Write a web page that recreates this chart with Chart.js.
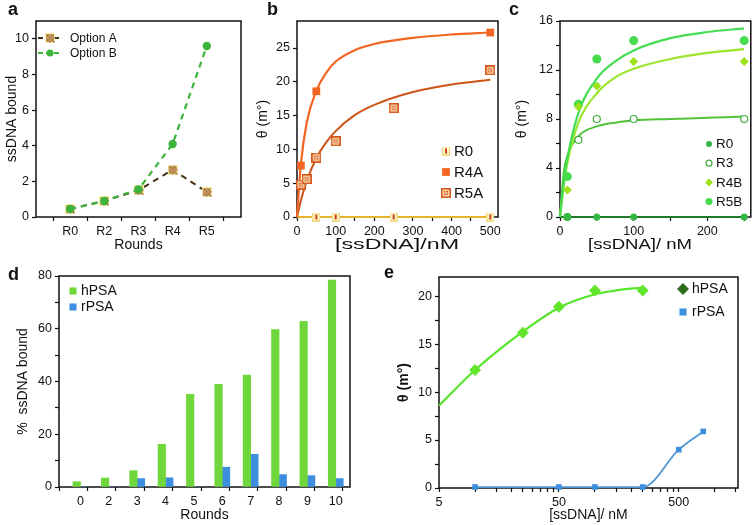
<!DOCTYPE html>
<html>
<head>
<meta charset="utf-8">
<script src="https://cdn.jsdelivr.net/npm/chart.js@4.4.1/dist/chart.umd.min.js"></script>
<style>
  body { margin: 0; background: #fff; width: 756px; height: 525px; position: relative; overflow: hidden;
         font-family: "Liberation Sans", Arial, sans-serif; }
  canvas { position: absolute; }
  .lab { position: absolute; font-weight: bold; font-size: 18px; line-height: 18px; color: #111; }
</style>
</head>
<body>
<canvas id="ca" width="250" height="255" style="left:0;top:0"></canvas>
<canvas id="cb" width="255" height="255" style="left:250px;top:0"></canvas>
<canvas id="cc" width="251" height="255" style="left:505px;top:0"></canvas>
<canvas id="cd" width="385" height="270" style="left:0;top:255px"></canvas>
<canvas id="ce" width="371" height="270" style="left:385px;top:255px"></canvas>
<div class="lab" style="left:8px;top:0">a</div>
<div class="lab" style="left:267px;top:0">b</div>
<div class="lab" style="left:509px;top:0">c</div>
<div class="lab" style="left:8px;top:265px">d</div>
<div class="lab" style="left:384px;top:263px">e</div>
<script>
// panel a
var roundsA = ['R0', 'R2', 'R3', 'R4', 'R5'];
var optionA = [0.45, 0.9, 1.5, 2.65, 1.4];
var optionB = [0.45, 0.9, 1.55, 4.1, 9.6];

// panel b
var r0bX = [50, 100, 250, 500];
var r0bY = [0, 0, 0, 0];
var r4aX = [10, 50, 500];
var r4aY = [7.6, 18.6, 27.3];
var r5aX = [10, 25, 50, 100, 250, 500];
var r5aY = [4.8, 5.6, 8.8, 11.2, 16.1, 21.7];
var fitBX = [0, 10, 25, 50, 75, 100, 150, 200, 300, 400, 500];
var fitR0b = [0, 0, 0, 0, 0, 0, 0, 0, 0, 0, 0];
var fitR4A = [0, 7.8, 13.9, 18.7, 21.3, 23.0, 24.7, 25.6, 26.5, 27.0, 27.3];
var fitR5A = [0, 2.4, 5.3, 8.7, 11.0, 12.7, 15.1, 16.6, 18.5, 19.6, 20.3];

// panel c
var r0cX = [10, 50, 100, 250];
var r0cY = [0, 0, 0, 0];
var r3X = [10, 25, 50, 100, 250];
var r3Y = [0, 6.3, 8.0, 8.0, 8.0];
var r4bX = [10, 25, 50, 100, 250];
var r4bY = [2.2, 9.0, 10.7, 12.7, 12.7];
var r5bX = [10, 25, 50, 100, 250];
var r5bY = [3.3, 9.2, 12.9, 14.4, 14.4];
var fitCX = [0, 5, 10, 25, 50, 75, 100, 150, 200, 250];
var fitR0c = [0, 0, 0, 0, 0, 0, 0, 0, 0, 0];
var fitR3 = [0, 3.6, 5.0, 6.6, 7.4, 7.7, 7.9, 8.0, 8.1, 8.2];
var fitR4B = [0, 2.5, 4.4, 7.7, 10.1, 11.4, 12.1, 12.9, 13.4, 13.7];
var fitR5B = [0, 2.8, 4.8, 8.5, 11.3, 12.7, 13.6, 14.6, 15.1, 15.4];

// panel d
var roundsD = ['0', '2', '3', '4', '5', '6', '7', '8', '9', '10'];
var hPSAd = [2.0, 3.4, 6.2, 16.2, 35.1, 38.9, 42.4, 59.7, 62.8, 78.5];
var rPSAd = [0, 0, 3.2, 3.5, 0, 7.5, 12.4, 4.7, 4.3, 3.2];

// panel e
var hPSAeX = [10, 25, 50, 100, 250];
var hPSAeY = [12.3, 16.2, 18.9, 20.6, 20.6];
var fitEX = [5, 10, 25, 50, 100, 150, 250];
var fitHPSA = [8.6, 12.3, 16.3, 18.8, 20.2, 20.6, 20.9];
var rPSAeX = [10, 50, 100, 250, 500, 800];
var rPSAeY = [0.1, 0.1, 0.1, 0.1, 4.0, 5.9];

var FONT = '"Liberation Sans", Arial, sans-serif';
Chart.defaults.font.family = FONT;
Chart.defaults.font.size = 12;
Chart.defaults.color = '#111';
Chart.defaults.animation = false;

function range(a, b, s) {
  var out = [];
  for (var v = a; v <= b + 1e-9; v += s) out.push(Math.round(v * 1000) / 1000);
  return out;
}
function xy(xs, ys) { return xs.map(function (x, i) { return { x: x, y: ys[i] }; }); }

// little image markers for the patterned squares
function marker(w, h, draw) {
  var c = document.createElement('canvas');
  c.width = w; c.height = h;
  draw(c.getContext('2d'));
  return c;
}
var mOptA = marker(10, 10, function (g) {
  g.fillStyle = '#f4f0a8'; g.fillRect(0, 0, 10, 10);
  g.fillStyle = '#c99a60'; g.fillRect(1, 1, 8, 8);
  g.fillStyle = '#9c6c3c';
  for (var i = 2; i < 9; i += 2) for (var j = 2; j < 9; j += 2) if ((i + j) % 4 === 0) g.fillRect(i, j, 1.5, 1.5);
});
var mR0b = marker(8, 9, function (g) {
  g.fillStyle = '#f0d878'; g.fillRect(0, 0, 8, 9);
  g.fillStyle = '#fbf3c8'; g.fillRect(1, 1, 6, 7);
  g.fillStyle = '#d04010'; g.fillRect(3, 2, 2, 5);
});
var mR5A = marker(10, 10, function (g) {
  g.fillStyle = '#d4561c'; g.fillRect(0, 0, 10, 10);
  g.fillStyle = '#f6d2a8'; g.fillRect(1.5, 1.5, 7, 7);
  g.fillStyle = '#d4561c';
  g.fillRect(3, 3, 1.5, 1.5); g.fillRect(5.5, 3, 1.5, 1.5);
  g.fillRect(3, 5.5, 1.5, 1.5); g.fillRect(5.5, 5.5, 1.5, 1.5);
});

function pts(label, xs, ys, o) {
  return Object.assign({
    label: label, data: xy(xs, ys), showLine: false, clip: false,
    pointRadius: 4, pointHoverRadius: 4, borderWidth: 0, pointBorderWidth: 0
  }, o);
}
function curve(xs, ys, color, width, o) {
  return Object.assign({
    data: xy(xs, ys), showLine: true, clip: false, pointRadius: 0, pointHoverRadius: 0,
    borderColor: color, borderWidth: width, cubicInterpolationMode: 'monotone', fill: false
  }, o);
}

function mkScale(p) {
  var s = {
    type: p.type || 'linear',
    min: p.min, max: p.max,
    border: { display: false },
    grid: {
      drawOnChartArea: false, tickLength: 4, tickWidth: 1.2,
      tickColor: function (c) {
        return (c.tick && p.mark && !p.mark(c.tick.value)) ? 'rgba(0,0,0,0)' : '#111';
      }
    },
    ticks: { autoSkip: false, maxRotation: 0, padding: 3, font: { size: 12.5 },
             callback: function (v) { return p.label(v); } },
    title: { display: !p.noTitle, text: p.title,
             font: { size: p.tsize || 13, weight: p.tbold ? 'bold' : 'normal' },
             padding: { top: p.tpad || 0, bottom: 1 } },
    afterBuildTicks: function (sc) { sc.ticks = p.ticks.map(function (v) { return { value: v }; }); }
  };
  if (p.axis === 'x') s.afterFit = function (sc) { sc.height = p.size; };
  else s.afterFit = function (sc) { sc.width = p.size; };
  return s;
}

var frame = {
  id: 'frame',
  beforeDatasetsDraw: function (chart) {
    var a = chart.chartArea, g = chart.ctx;
    g.save();
    g.strokeStyle = '#111'; g.lineWidth = 1.5;
    g.strokeRect(a.left, a.top, a.right - a.left, a.bottom - a.top);
    g.restore();
  }
};

// the x titles of b and c are printed wide in the figure
var wideTitle = {
  id: 'wideTitle',
  afterDraw: function (chart, args, o) {
    if (!o || !o.text) return;
    var g = chart.ctx;
    g.save();
    g.font = o.size + 'px ' + FONT;
    g.fillStyle = '#111';
    g.textAlign = 'center'; g.textBaseline = 'middle';
    var w = g.measureText(o.text).width;
    g.translate(o.cx, o.cy);
    g.scale(o.width / w, 1);
    g.fillText(o.text, 0, 0);
    g.restore();
  }
};

var boxLegend = {
  id: 'boxLegend',
  afterDraw: function (chart, args, o) {
    if (!o || !o.items) return;
    var g = chart.ctx;
    g.save();
    g.font = (o.size || 12) + 'px ' + FONT;
    g.textBaseline = 'middle';
    o.items.forEach(function (it, i) {
      var y = o.y + i * o.gap;
      if (it.line) {
        g.strokeStyle = it.line; g.lineWidth = it.lw || 2;
        g.setLineDash(it.dash || []);
        g.beginPath(); g.moveTo(o.mx - 12, y); g.lineTo(o.mx + 10, y); g.stroke();
        g.setLineDash([]);
      }
      g.fillStyle = it.fill || '#000';
      g.strokeStyle = it.stroke || it.fill || '#000';
      g.lineWidth = it.bw || 0;
      Chart.helpers.drawPoint(g, { pointStyle: it.style, radius: it.r || 4, rotation: 0, borderWidth: it.bw || 0 }, o.mx, y);
      g.fillStyle = '#111';
      g.fillText(it.text, o.tx, y + 0.5);
    });
    g.restore();
  }
};

function baseOpts(pad, scales, legend, title) {
  return {
    responsive: false,
    layout: { padding: pad },
    plugins: { legend: { display: false }, tooltip: { enabled: false }, boxLegend: legend, wideTitle: title || {} },
    scales: scales
  };
}

// ---- a ----
new Chart(document.getElementById('ca'), {
  type: 'scatter',
  data: {
    datasets: [
      pts('Option B', [1, 2, 3, 4, 5], optionB, {
        showLine: true, borderColor: '#3cb43c', borderWidth: 2.2, borderDash: [6, 5],
        pointBackgroundColor: '#3cb43c', pointRadius: 4.2
      }),
      pts('Option A', [1, 2, 3, 4, 5], optionA, {
        showLine: true, borderColor: '#4a3418', borderWidth: 2, borderDash: [6, 5],
        pointStyle: mOptA
      })
    ]
  },
  options: baseOpts({ top: 21, right: 9, left: 0, bottom: 0 }, {
    x: mkScale({ axis: 'x', size: 38, min: 0, max: 6, ticks: range(0.5, 5.5, 0.5), title: 'Rounds', tsize: 14,
      mark: function (v) { return !Number.isInteger(v); },
      label: function (v) { return Number.isInteger(v) && v >= 1 && v <= 5 ? roundsA[v - 1] : ''; } }),
    y: mkScale({ axis: 'y', size: 36, min: 0, max: 11, ticks: range(0, 10, 2), title: 'ssDNA bound', tsize: 14, tpad: 4,
      label: function (v) { return String(v); } })
  }, {
    mx: 50, tx: 70, y: 38, gap: 15, size: 12,
    items: [
      { text: 'Option A', style: mOptA, line: '#4a3418', dash: [5, 3] },
      { text: 'Option B', style: 'circle', r: 3.5, fill: '#3cb43c', line: '#3cb43c', dash: [5, 3] }
    ]
  }),
  plugins: [frame, boxLegend, wideTitle]
});

// ---- b ----
new Chart(document.getElementById('cb'), {
  type: 'scatter',
  data: {
    datasets: [
      pts('R0', r0bX, r0bY, { pointStyle: mR0b }),
      pts('R4A', r4aX, r4aY, { pointStyle: 'rect', pointRadius: 5.5, pointBackgroundColor: '#f26522' }),
      pts('R5A', r5aX, r5aY, { pointStyle: mR5A }),
      curve(fitBX, fitR4A, '#f26522', 2.2),
      curve(fitBX, fitR5A, '#cf5418', 2),
      curve(fitBX, fitR0b, '#e6b42a', 2)
    ]
  },
  options: baseOpts({ top: 21, right: 7, left: 0, bottom: 0 }, {
    x: mkScale({ axis: 'x', size: 38, min: 0, max: 520, ticks: range(0, 500, 50), title: '[ssDNA]/nM', noTitle: true,
      label: function (v) { return v % 100 === 0 ? String(v) : ''; } }),
    y: mkScale({ axis: 'y', size: 47, min: 0, max: 29, ticks: range(0, 25, 5), title: 'θ (m°)', tsize: 14, tpad: 5,
      label: function (v) { return String(v); } })
  }, {
    mx: 196, tx: 204, y: 151, gap: 21, size: 15,
    items: [
      { text: 'R0', style: mR0b },
      { text: 'R4A', style: 'rect', r: 5.5, fill: '#f26522' },
      { text: 'R5A', style: mR5A }
    ]
  }, { text: '[ssDNA]/nM', size: 14.5, width: 124, cx: 147, cy: 245 }),
  plugins: [frame, boxLegend, wideTitle]
});

// ---- c ----
new Chart(document.getElementById('cc'), {
  type: 'scatter',
  data: {
    datasets: [
      pts('R0', r0cX, r0cY, { pointStyle: 'circle', pointRadius: 3.5, pointBackgroundColor: '#34b845' }),
      pts('R3', r3X, r3Y, { pointStyle: 'circle', pointRadius: 3.5, pointBackgroundColor: '#fff',
        pointBorderColor: '#3fae3f', pointBorderWidth: 1.2 }),
      pts('R4B', r4bX, r4bY, { pointStyle: 'rectRot', pointRadius: 4.5, pointBackgroundColor: '#9de21c' }),
      pts('R5B', r5bX, r5bY, { pointStyle: 'circle', pointRadius: 4.5, pointBackgroundColor: '#46dc4e' }),
      curve(fitCX, fitR5B, '#45dd55', 2.2),
      curve(fitCX, fitR4B, '#9be52e', 2.2),
      curve(fitCX, fitR3, '#52c23a', 2),
      curve(fitCX, fitR0c, '#1e7a26', 2.2)
    ]
  },
  options: baseOpts({ top: 21, right: 5, left: 0, bottom: 0 }, {
    x: mkScale({ axis: 'x', size: 38, min: 0, max: 259, ticks: range(0, 250, 50), title: '[ssDNA]/ nM', noTitle: true,
      label: function (v) { return v % 100 === 0 ? String(v) : ''; } }),
    y: mkScale({ axis: 'y', size: 55, min: 0, max: 16, ticks: range(0, 16, 2), title: 'θ (m°)', tsize: 14, tpad: 9,
      label: function (v) { return v % 4 === 0 ? String(v) : ''; } })
  }, {
    mx: 204, tx: 211, y: 144, gap: 19.2, size: 13.5,
    items: [
      { text: 'R0', style: 'circle', r: 3, fill: '#34b845' },
      { text: 'R3', style: 'circle', r: 3, fill: '#fff', stroke: '#3fae3f', bw: 1.2 },
      { text: 'R4B', style: 'rectRot', r: 4, fill: '#9de21c' },
      { text: 'R5B', style: 'circle', r: 3.5, fill: '#46dc4e' }
    ]
  }, { text: '[ssDNA]/ nM', size: 14.5, width: 104, cx: 135, cy: 245 }),
  plugins: [frame, boxLegend, wideTitle]
});

// ---- d ----
new Chart(document.getElementById('cd'), {
  type: 'bar',
  data: {
    datasets: [
      { label: 'hPSA', data: hPSAd.map(function (y, i) { return { x: i, y: y }; }),
        backgroundColor: '#6fd63c', barThickness: 7.5 },
      { label: 'rPSA', data: rPSAd.map(function (y, i) { return { x: i, y: y }; }),
        backgroundColor: '#3e8ee0', barThickness: 7.5 }
    ]
  },
  options: baseOpts({ top: 21, right: 35, left: 0, bottom: 0 }, {
    x: mkScale({ axis: 'x', size: 38, min: -0.5, max: 9.245, ticks: range(-0.5, 9, 0.5), title: 'Rounds', tsize: 14,
      mark: function (v) { return !Number.isInteger(v); },
      label: function (v) { return Number.isInteger(v) && v >= 0 && v <= 9 ? roundsD[v] : ''; } }),
    y: mkScale({ axis: 'y', size: 59, min: 0, max: 80, ticks: range(0, 80, 10), title: '%  ssDNA bound', tsize: 14, tpad: 15,
      label: function (v) { return v % 20 === 0 ? String(v) : ''; } })
  }, {
    mx: 73, tx: 81, y: 36, gap: 16, size: 14,
    items: [
      { text: 'hPSA', style: 'rect', r: 5, fill: '#6fd63c' },
      { text: 'rPSA', style: 'rect', r: 5, fill: '#3e8ee0' }
    ]
  }),
  plugins: [frame, boxLegend, wideTitle]
});

// ---- e ----
new Chart(document.getElementById('ce'), {
  type: 'scatter',
  data: {
    datasets: [
      pts('hPSA', hPSAeX, hPSAeY, { pointStyle: 'rectRot', pointRadius: 6, pointBackgroundColor: '#62e62c' }),
      pts('rPSA', rPSAeX, rPSAeY, { pointStyle: 'rect', pointRadius: 4, pointBackgroundColor: '#3d8fe0',
        showLine: true, borderColor: '#4f95d2', borderWidth: 1.8, cubicInterpolationMode: 'monotone' }),
      curve(fitEX, fitHPSA, '#55e62a', 2.2)
    ]
  },
  options: baseOpts({ top: 22, right: 18, left: 0, bottom: 0 }, {
    x: mkScale({ axis: 'x', type: 'logarithmic', size: 37, min: 5, max: 1560,
      ticks: range(5, 50, 5).concat(range(100, 500, 50)).concat([1000, 1500]),
      title: '[ssDNA]/ nM', tsize: 14,
      label: function (v) { return (v === 5 || v === 50 || v === 500) ? String(v) : ''; } }),
    y: mkScale({ axis: 'y', size: 54, min: 0, max: 22, ticks: range(0, 20, 2.5), title: 'θ (m°)', tsize: 14, tbold: true, tpad: 11,
      label: function (v) { return v % 5 === 0 ? String(v) : ''; } })
  }, {
    mx: 298, tx: 307, y: 34, gap: 23, size: 14,
    items: [
      { text: 'hPSA', style: 'rectRot', r: 6, fill: '#2d6e1c' },
      { text: 'rPSA', style: 'rect', r: 5, fill: '#3d8fe0' }
    ]
  }),
  plugins: [frame, boxLegend, wideTitle]
});
</script>
</body>
</html>
